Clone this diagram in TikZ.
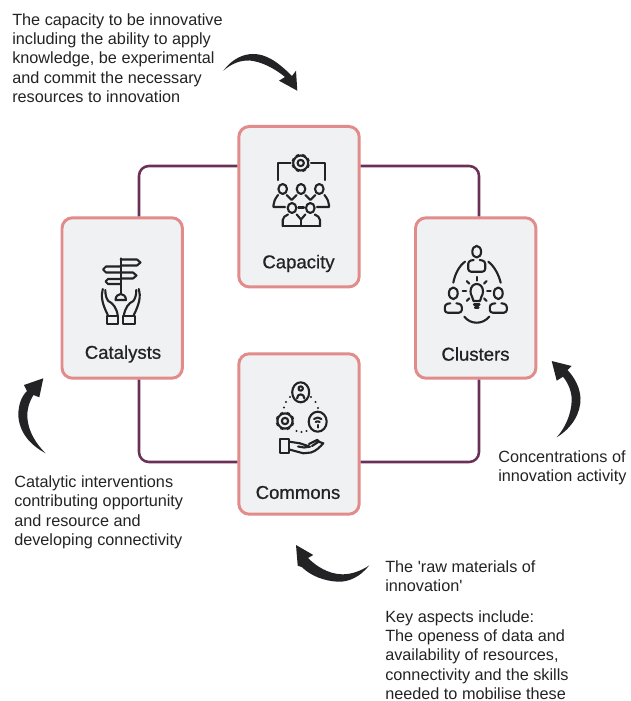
\documentclass[tikz,border=0pt]{standalone}
\usepackage{fontspec}
\setmainfont{Liberation Sans}
\newfontfamily\boxfont[FakeBold=0.8]{Liberation Sans}
\definecolor{boxline}{HTML}{E28B8B}
\definecolor{boxfill}{HTML}{F0F1F3}
\definecolor{linkline}{HTML}{6C2F57}
\definecolor{ink}{HTML}{232325}
\tikzset{
  card/.style={draw=boxline,fill=boxfill,line width=2.1pt,rounded corners=7.5pt,minimum width=3.01cm,minimum height=4.01cm,inner sep=0pt},
  cardname/.style={font=\boxfont\fontsize{13.2}{15}\selectfont,text=ink,inner sep=0pt},
  note/.style={anchor=north west,align=left,inner sep=0pt,text=ink,font=\fontsize{11.55}{13.75}\selectfont},
  link/.style={draw=linkline,line width=1.8pt,rounded corners=7pt},
  icon/.style={draw=ink,line width=1.5pt,line join=round,line cap=round},
  swoosh/.style={fill=ink,draw=none},
}
\begin{document}
\begin{tikzpicture}[x=0.025cm,y=-0.025cm]
        \useasboundingbox (0,0) rectangle (630,701);
        % the four cards
        \node[card] (capacity) at (299,206.7) {};
        \node[card] (catalysts) at (122.2,298) {};
        \node[card] (clusters) at (475.7,298) {};
        \node[card] (commons) at (299,434) {};
        \node[cardname] (capacityname) at (298.5,263.5) {Capacity};
        \node[cardname] (catalystsname) at (123,354) {Catalysts};
        \node[cardname] (clustersname) at (475.5,354) {Clusters};
        \node[cardname] (commonsname) at (298,492.5) {Commons};
        % links between the cards
        \coordinate (nw) at (139,166);
        \coordinate (ne) at (479,166);
        \coordinate (sw) at (139,462);
        \coordinate (se) at (479,462);
        \draw[link] (capacity.west |- nw) -| (nw |- catalysts.north);
        \draw[link] (capacity.east |- ne) -| (ne |- clusters.north);
        \draw[link] (commons.west |- sw) -| (sw |- catalysts.south);
        \draw[link] (commons.east |- se) -| (se |- clusters.south);
        % gears
        \foreach \gx/\gy/\gr in {300.7/163/7.5,285/421/7.6}{
          \draw[icon] (\gx,\gy) circle (\gr);
          \draw[icon] (\gx,\gy) circle (0.42*\gr);
          \foreach \a in {0,45,...,315}
            \draw[icon,line width=2.4pt,line cap=butt] ({\gx+\gr*cos(\a+22)},{\gy+\gr*sin(\a+22)}) -- ({\gx+1.22*\gr*cos(\a+22)},{\gy+1.22*\gr*sin(\a+22)});
        }
        % capacity icon
        \draw[icon] (290.5,163) -- (278.3,163) -- (278.3,180);
        \draw[icon] (311,163) -- (325,163) -- (325,180);
        \foreach \hx/\hy in {282.7/189,301/189,319.3/189,292/208,310.3/208}
          \draw[icon] (\hx,\hy) ellipse (4.3 and 5);
        \draw[icon] (278,195) .. controls (275,199) and (273.5,202) .. (273.5,205) -- (273.5,207) -- (285,207);
        \draw[icon] (324.5,195) .. controls (327.5,199) and (329,202) .. (329,205) -- (329,207) -- (317,207);
        \draw[icon] (286.7,195) -- (291.7,200) -- (296.7,195);
        \draw[icon] (305.3,195) -- (310.3,200) -- (315.3,195);
        \draw[icon] (298.3,207.5) -- (304,207.5);
        \draw[icon] (282.7,226) -- (320,226);
        \draw[icon] (282.7,226) -- (282.7,220) .. controls (283,217) and (285,216) .. (288,214.5);
        \draw[icon] (320,226) -- (320,220) .. controls (319.7,217) and (317.7,216) .. (314.7,214.5);
        \draw[icon] (296.7,214.5) -- (301,219.5) -- (305.3,214.5);
        \draw[icon] (301,219.5) -- (301,226);
        % catalysts icon
        \draw[icon] (120.7,258.3) -- (120.7,294);
        \draw[icon] (120.7,259.5) -- (137,259.5) -- (140.5,262.5) -- (137,265.5) -- (120.7,265.5);
        \draw[icon] (120.7,266.5) -- (106,266.5) -- (103,269.5) -- (106,272.5) -- (120.7,272.5);
        \draw[icon] (120.7,272.5) -- (133,272.5) -- (136.5,275.5) -- (133,278.5) -- (120.7,278.5);
        \draw[icon] (120.7,279) -- (108,279) -- (105.5,281.5) -- (108,284) -- (120.7,284);
        \draw[icon] (115.5,300) -- (126,300) .. controls (126,296) and (123,294) .. (120.7,294) .. controls (118.5,294) and (115.5,296) .. (115.5,300);
        \foreach \s in {-1,1}{
          \draw[icon] ({120.8+\s*18},289) .. controls ({120.8+\s*20},296) and ({120.8+\s*19},303) .. ({120.8+\s*13},315);
          \draw[icon] ({120.8+\s*15.5},290) .. controls ({120.8+\s*15.5},296) and ({120.8+\s*14},299) .. ({120.8+\s*12.5},301) .. controls ({120.8+\s*8},303) and ({120.8+\s*4},308) .. ({120.8+\s*3},316);
          \draw[icon] ({120.8+\s*14},316) -- ({120.8+\s*2.5},316) -- ({120.8+\s*2.5},324) -- ({120.8+\s*14},324) -- cycle;
        }
        % clusters icon
        \foreach \hx/\hy/\bw/\bt/\bb in {476.7/251.7/8.5/260/271.7,453.3/293.3/8.5/303.3/312.7,498.3/293.3/8.5/303.3/312.7}{
          \draw[icon] (\hx,\hy) ellipse (4.4 and 5.8);
          \draw[icon,rounded corners=2pt] (\hx-3,\bt) -- (\hx-\bw,\bt+1) -- (\hx-\bw,\bb) -- (\hx+\bw,\bb) -- (\hx+\bw,\bt+1) -- (\hx+3,\bt);
        }
        \draw[icon] (465,261.7) .. controls (459,266) and (455,274) .. (453.3,282.7);
        \draw[icon] (488.3,261.7) .. controls (494,266) and (498.5,274) .. (500.7,282.7);
        \draw[icon] (464.3,316.7) .. controls (468,321) and (472,322.7) .. (476.7,322.7) .. controls (481,322.7) and (485.5,321) .. (489.3,316.7);
        \draw[icon] (473.5,301) .. controls (473.5,297) and (470.5,296) .. (470.5,291.5) .. controls (470.5,281.5) and (483,281.5) .. (483,291.5) .. controls (483,296) and (480,297) .. (480,301) -- cycle;
        \draw[icon] (474,304.5) -- (479.5,304.5);
        \draw[icon] (475,307.5) -- (478.5,307.5);
        \foreach \a in {-180,-135,-90,-45,0,45,135}
          \draw[icon] ({476.7+10.5*cos(\a)},{291+10.5*sin(\a)}) -- ({476.7+14*cos(\a)},{291+14*sin(\a)});
        % commons icon
        \draw[icon] (300.7,392.3) ellipse (8.5 and 10);
        \draw[icon] (300.7,388.5) circle (2.2);
        \draw[icon] (297,398.5) .. controls (297,393) and (304.4,393) .. (304.4,398.5);
        \draw[icon] (317.7,421.7) ellipse (9 and 10);
        \draw[icon] (314,419) .. controls (316,417) and (319.4,417) .. (321.4,419);
        \draw[icon] (315.7,422) .. controls (317,421) and (318.4,421) .. (319.7,422);
        \draw[icon] (317.7,425) -- (317.7,427.5);
        \foreach \dx/\dy in {290/397,286/402,284/407.5,311/397,315.5/402,318/408,296.5/431,301.5/432,306.5/431}
          \fill[ink] (\dx,\dy) circle (1.2);
        \draw[icon] (280,439.3) rectangle (289.3,453.3);
        \draw[icon] (289.3,441.7) -- (300,443.3) -- (310,446.7) -- (304,447.5) -- (298,446.5);
        \draw[icon] (309,444) -- (317.3,439.8) -- (319,441.5) -- (312,446);
        \draw[icon] (318,441.5) -- (323.3,443.3) .. controls (320,447) and (316,451) .. (311,452.5) -- (303.3,453.3) -- (289.3,449.5);
        % swooshes
        \fill[swoosh] (223.3,70.7) .. controls (232,59) and (243,54) .. (253,54) .. controls (265,54) and (276,60) .. (292,76) -- (296,70.7) -- (297.3,90.7) -- (279,80.7) -- (285,77) .. controls (274,68) and (262,62) .. (250,60.5) .. controls (240,60) and (231,64) .. (223.3,70.7) -- cycle;
        \fill[swoosh] (45.7,453.3) .. controls (30,445) and (19,432) .. (18.3,415) .. controls (18.5,405) and (21,397) .. (27,391) -- (24,385) -- (43.3,378.3) -- (39.3,397.3) -- (33.5,395) .. controls (29,402) and (27,410) .. (27.3,417) .. controls (28,431) and (36,444) .. (45.7,453.3) -- cycle;
        \fill[swoosh] (556.7,437.3) .. controls (572,428) and (581,413) .. (580.5,398) .. controls (580,388) and (575,378) .. (567.5,370) -- (571.7,366) -- (551.7,361) -- (556.7,380.7) -- (563,376.7) .. controls (569,384) and (572,393) .. (571.7,401) .. controls (571,415) and (565,428) .. (556.7,437.3) -- cycle;
        \fill[swoosh] (369.3,565.3) .. controls (360,577) and (349,582) .. (338,581.7) .. controls (324,581) and (311,576) .. (301.7,567) -- (297.7,565.7) -- (296,545) -- (313.3,555) -- (308,558) .. controls (316,566) and (328,574) .. (342,574.3) .. controls (351,574.5) and (361,571) .. (369.3,565.3) -- cycle;
        % notes
        \node[note] (capacitynote) at (12,13) {The capacity to be innovative\\including the ability to apply\\knowledge, be experimental\\and commit the necessary\\resources to innovation};
        \node[note] (catalystsnote) at (14,475.5) {Catalytic interventions\\contributing opportunity\\and resource and\\developing connectivity};
        \node[note] (clustersnote) at (498,450.5) {Concentrations of\\innovation activity};
        \node[note] (commonsnote) at (385,560) {The \textquotesingle raw materials of\\innovation\textquotesingle};
        \node[note] (aspectsnote) at (385,610) {Key aspects include:\\The openess of data and\\availability of resources,\\connectivity and the skills\\needed to mobilise these};
\end{tikzpicture}
\end{document}
